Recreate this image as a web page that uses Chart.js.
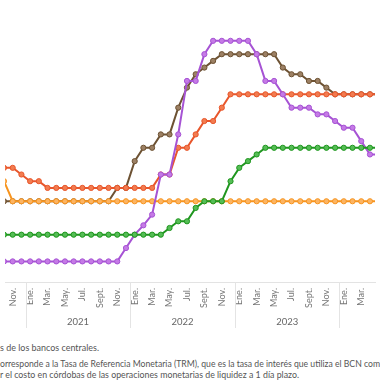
<!DOCTYPE html>
<html>
<head>
<meta charset="utf-8">
<script src="https://cdn.jsdelivr.net/npm/chart.js@4.4.0/dist/chart.umd.min.js"></script>
<style>
html, body { margin: 0; padding: 0; background: #fff; }
#wrap { position: relative; width: 380px; height: 380px; overflow: hidden; font-family: Lato, sans-serif; }
#box { position: absolute; left: 0; top: 0; width: 380px; height: 330px; }
.note { position: absolute; left: 0; white-space: nowrap; font-size: 8.5px; line-height: 10px; color: #555; transform-origin: 0 50%; }
</style>
</head>
<body>
<div id="wrap">
  <div id="box"><canvas id="myChart"></canvas></div>
  <div class="note" style="top:343px" data-w="99">s de los bancos centrales.</div>
  <div class="note" style="top:359px" data-w="380">orresponde a la Tasa de Referencia Monetaria (TRM), que es la tasa de interés que utiliza el BCN com</div>
  <div class="note" style="top:370px" data-w="299">r el costo en córdobas de las operaciones monetarias de liquidez a 1 día plazo.</div>
</div>
<script>
// months from Oct. 2020 to May. 2024, index 0 = Ene. 2021
const monthNames = ["Ene.", "Feb.", "Mar.", "Abr.", "May.", "Jun.", "Jul.", "Ago.", "Sept.", "Oct.", "Nov.", "Dic."];
const firstMonth = -3;
const years = ["2020", "2021", "2022", "2023", "2024"];
const yearStart = [-12, 0, 12, 24, 36];
// visible window of the axis (month index)
const xMin = -2.883, xMax = 39.58;

// policy rates, %, monthly
const nicaragua = [4.25, 4.25, 4.0, 3.75, 3.75, 3.5, 3.5, 3.5, 3.5, 3.5, 3.5, 3.5, 3.5, 3.5, 3.5,
  3.5, 3.5, 3.5, 4.0, 4.0, 5.0, 5.0, 5.5, 6.0, 6.0, 6.5, 7.0,
  7.0, 7.0, 7.0, 7.0, 7.0, 7.0, 7.0, 7.0, 7.0, 7.0, 7.0, 7.0,
  7.0, 7.0, 7.0, 7.0, 7.0];
const honduras = [3.75, 3.0, 3.0, 3.0, 3.0, 3.0, 3.0, 3.0, 3.0, 3.0, 3.0, 3.0, 3.0, 3.0, 3.0,
  3.0, 3.0, 3.0, 3.0, 3.0, 3.0, 3.0, 3.0, 3.0, 3.0, 3.0, 3.0,
  3.0, 3.0, 3.0, 3.0, 3.0, 3.0, 3.0, 3.0, 3.0, 3.0, 3.0, 3.0,
  3.0, 3.0, 3.0, 3.0, 3.0];
const guatemala = [1.75, 1.75, 1.75, 1.75, 1.75, 1.75, 1.75, 1.75, 1.75, 1.75, 1.75, 1.75, 1.75, 1.75, 1.75,
  1.75, 1.75, 1.75, 1.75, 2.0, 2.25, 2.25, 2.75, 3.0, 3.0, 3.0, 3.75,
  4.25, 4.5, 4.75, 5.0, 5.0, 5.0, 5.0, 5.0, 5.0, 5.0, 5.0, 5.0,
  5.0, 5.0, 5.0, 5.0, 5.0];
const costaRica = [0.75, 0.75, 0.75, 0.75, 0.75, 0.75, 0.75, 0.75, 0.75, 0.75, 0.75, 0.75, 0.75, 0.75, 1.25,
  1.75, 2.1, 2.5, 4.0, 4.0, 5.5, 7.5, 7.5, 8.5, 9.0, 9.0, 9.0,
  9.0, 9.0, 8.5, 7.5, 7.5, 7.0, 6.5, 6.5, 6.5, 6.25, 6.25, 6.0,
  5.75, 5.75, 5.25, 4.75, 4.75];
const dominicana = [3.0, 3.0, 3.0, 3.0, 3.0, 3.0, 3.0, 3.0, 3.0, 3.0, 3.0, 3.0, 3.0, 3.5, 3.5,
  4.5, 5.0, 5.0, 5.5, 5.5, 6.5, 7.25, 7.75, 8.0, 8.25, 8.5, 8.5,
  8.5, 8.5, 8.5, 8.5, 8.5, 8.0, 7.75, 7.75, 7.5, 7.5, 7.25, 7.0,
  7.0, 7.0, 7.0, 7.0, 7.0];

function monthName(v) {
  return monthNames[((v % 12) + 12) % 12];
}

/** one line dataset, values placed on the month index axis */
function serie(name, values, line, fill) {
  return {
    label: name,
    data: values.map((v, k) => ({ x: firstMonth + k, y: v })),
    borderColor: line,
    backgroundColor: fill,
    pointBackgroundColor: fill,
    pointBorderColor: line,
    pointBorderWidth: 1,
    pointRadius: 2.6,
    borderWidth: 2,
    tension: 0
  };
}

// year separators and year names under the month labels
const yearAxis = {
  id: 'yearAxis',
  afterDraw(chart) {
    const ctx = chart.ctx;
    const x = chart.scales.x;
    const top = chart.chartArea.bottom;
    ctx.save();
    ctx.strokeStyle = '#e4e4e4';
    ctx.lineWidth = 1;
    yearStart.forEach(s => {
      const px = Math.round(x.getPixelForValue(s - 0.5)) + 0.5;
      ctx.beginPath();
      ctx.moveTo(px, top);
      ctx.lineTo(px, top + 46);
      ctx.stroke();
    });
    ctx.fillStyle = '#666';
    ctx.font = '9.5px Lato';
    ctx.textAlign = 'center';
    ctx.textBaseline = 'middle';
    years.forEach((y, k) => {
      ctx.fillText(y, x.getPixelForValue(yearStart[k] + 5.5), top + 40);
    });
    ctx.restore();
  }
};

// a tick every other month (Ene., Mar., ...) inside the window
const tickValues = [];
for (let v = Math.ceil(xMin); v <= Math.floor(xMax); v++) {
  if (((v % 2) + 2) % 2 === 0) tickValues.push(v);
}

let ctx = document.getElementById('myChart').getContext('2d');
let myChart = new Chart(ctx, {
  type: 'line',
  data: {
    datasets: [
      serie("Guatemala", guatemala, '#1f961f', '#55bd55'),
      serie("Costa Rica", costaRica, '#a653d4', '#c57ae6'),
      serie("Honduras", honduras, '#f7941e', '#fcb463'),
      serie("Nicaragua", nicaragua, '#e8562b', '#f27c50'),
      serie("República Dominicana", dominicana, '#6d5233', '#9c8064')
    ]
  },
  options: {
    responsive: true,
    maintainAspectRatio: false,
    animation: false,
    layout: { padding: 0 },
    plugins: { legend: { display: false }, tooltip: { enabled: false } },
    scales: {
      x: {
        type: 'linear',
        min: xMin,
        max: xMax,
        grid: { display: false, drawTicks: false },
        border: { display: true, color: '#e3e3e3' },
        afterBuildTicks: s => { s.ticks = tickValues.map(v => ({ value: v })); },
        afterFit: s => { s.height = 48; },
        ticks: {
          autoSkip: false,
          minRotation: 90,
          maxRotation: 90,
          padding: 6,
          color: '#777',
          font: { family: 'Lato', size: 9 },
          callback: v => monthName(v)
        }
      },
      y: { display: false, min: -0.02, max: 10.34 }
    }
  },
  plugins: [yearAxis]
});

// fit the note lines to the widths seen in the picture
document.querySelectorAll('.note').forEach(el => {
  const w = el.getBoundingClientRect().width;
  el.style.transform = 'scaleX(' + (el.dataset.w / w) + ')';
});
</script>
</body>
</html>
